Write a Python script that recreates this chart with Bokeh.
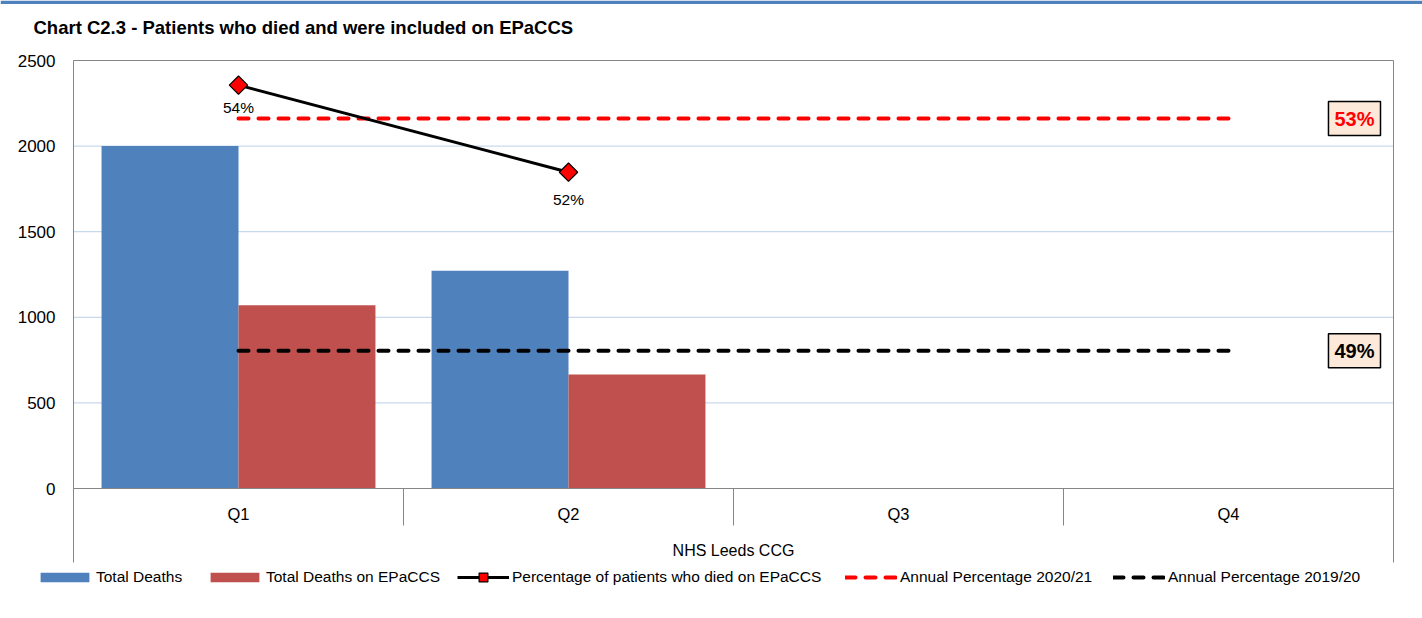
import numpy as np
from bokeh.plotting import figure
from bokeh.models import Range1d, Legend, LegendItem, Label
from bokeh.embed import file_html
from bokeh.resources import INLINE

# ---------------- data ----------------
quarters = ["Q1", "Q2", "Q3", "Q4"]
total_deaths = [2000, 1272, np.nan, np.nan]
deaths_on_epaccs = [1070, 666, np.nan, np.nan]
pct_on_epaccs = [0.535, 0.523]           # Q1, Q2 only
pct_labels = ["54%", "52%"]
annual_2021 = 0.5304
annual_2021_label = "53%"
annual_1920 = 0.4984
annual_1920_label = "49%"
group_label = "NHS Leeds CCG"
y_ticks = [0, 500, 1000, 1500, 2000, 2500]
title_text = "Chart C2.3 - Patients who died and were included on EPaCCS"
legend_labels = ["Total Deaths", "Total Deaths on EPaCCS",
                 "Percentage of patients who died on EPaCCS",
                 "Annual Percentage 2020/21", "Annual Percentage 2019/20"]

# ---------------- layout / style ----------------
FONT = "Liberation Sans"
BLUE = "#4F81BD"
RED = "#C0504D"
GRAY = "#868686"
GRID = "#BCD0E8"
W, H = 1422, 618
PL, PR, PT, PB = 73, 1393, 60, 488      # plot-area edges in pixels
YMAX = 2500
PCT_RANGE = (0.4794, 0.5384)            # hidden secondary axis (bottom, top of plot area)

n = len(quarters)
centers = np.arange(n) + 0.5
bw = 0.415

SX = n / (PR - PL)
KY = YMAX / (PB - PT)
KP = (PCT_RANGE[1] - PCT_RANGE[0]) / (PB - PT)

def X(px):
    return (px - PL) * SX

def Y(py):
    return (PB - py) * KY

p = figure(width=W, height=H, x_range=Range1d(X(0), X(W)), y_range=Range1d(Y(H), Y(0)),
           x_axis_type=None, y_axis_type=None, output_backend="svg", toolbar_location=None,
           min_border=0, background_fill_color="white", border_fill_color="white",
           outline_line_color=None)
p.extra_y_ranges = {"pct": Range1d(PCT_RANGE[0] - (H - PB) * KP, PCT_RANGE[1] + PT * KP)}
p.xgrid.visible = False
p.ygrid.visible = False

# top blue rule
p.quad(left=X(0), right=X(W), top=Y(0), bottom=Y(3.5), fill_color=BLUE, line_color=None)

# title
p.add_layout(Label(x=X(33), y=Y(27), text=title_text, text_align="left", text_baseline="middle",
                   text_font=FONT, text_font_size="18.5px", text_font_style="bold",
                   text_color="black"))

# horizontal gridlines
p.segment(x0=[0] * len(y_ticks), x1=[n] * len(y_ticks), y0=y_ticks, y1=y_ticks,
          line_color=GRID, line_width=1)

# bars
r_total = p.vbar(x=centers - bw / 2, top=total_deaths, bottom=0, width=bw,
                 fill_color=BLUE, line_color=None)
r_epac = p.vbar(x=centers + bw / 2, top=deaths_on_epaccs, bottom=0, width=bw,
                fill_color=RED, line_color=None)

# plot-area frame and category axis
p.segment(x0=[0, n, 0, 0], x1=[0, n, n, n], y0=[Y(562), Y(562), YMAX, 0],
          y1=[YMAX, YMAX, YMAX, 0], line_color=GRAY, line_width=1)
sep = list(range(1, n))
p.segment(x0=sep, x1=sep, y0=[0] * len(sep), y1=[Y(525)] * len(sep),
          line_color=GRAY, line_width=1)

# y tick labels
for t in y_ticks:
    p.add_layout(Label(x=0, y=t, x_offset=-18, text=str(t), text_align="right",
                       text_baseline="middle", text_font=FONT, text_font_size="17px",
                       text_color="black"))

# category labels
for c, q in zip(centers, quarters):
    p.add_layout(Label(x=c, y=Y(513), text=q, text_align="center", text_baseline="middle",
                       text_font=FONT, text_font_size="16.5px", text_color="black"))
p.add_layout(Label(x=n / 2, y=Y(550), text=group_label, text_align="center",
                   text_baseline="middle", text_font=FONT, text_font_size="16px",
                   text_color="black"))

# annual lines
r_a21 = p.line(x=centers, y=[annual_2021] * n, y_range_name="pct", line_color="red",
               line_width=4, line_dash="10 10", line_cap="round")
r_a19 = p.line(x=centers, y=[annual_1920] * n, y_range_name="pct", line_color="black",
               line_width=4, line_dash="10 10", line_cap="round")

# percentage line
k = len(pct_on_epaccs)
r_pl = p.line(x=centers[:k], y=pct_on_epaccs, y_range_name="pct", line_color="black", line_width=3)
r_pm = p.scatter(x=centers[:k], y=pct_on_epaccs, y_range_name="pct", marker="square",
                 angle=np.pi / 4, size=13, fill_color="red", line_color="black", line_width=1.2)
label_offsets = [14, 19]
for xc, yv, t, off in zip(centers[:k], pct_on_epaccs, pct_labels, label_offsets):
    p.add_layout(Label(x=xc, y=yv, y_range_name="pct", text=t, text_align="center",
                       text_baseline="top", y_offset=-off, text_font=FONT,
                       text_font_size="15.5px", text_color="black"))

# boxed annual labels
for yv, t, col in [(annual_2021, annual_2021_label, "red"), (annual_1920, annual_1920_label, "black")]:
    p.add_layout(Label(x=n, y=yv, y_range_name="pct", x_offset=-13, text=t,
                       text_align="right", text_baseline="middle", text_font=FONT,
                       text_font_size="20px", text_font_style="bold", text_color=col,
                       background_fill_color="#FDE9D9", border_line_color="black",
                       border_line_width=1.5, padding=6))

# legend: one entry per Legend so each sits where the reference has it
LEG_CY = 577
LABEL_H = 18
entries = [
    ([r_total], 34, 61, 12, 1),
    ([r_epac], 204, 61, 12, 1),
    ([r_pl, r_pm], 457, 52, 22, 3),
    ([r_a21], 845, 52, 12, 3),
    ([r_a19], 1113, 52, 12, 3),
]
for (rends, x0, gw, gh, so), lab in zip(entries, legend_labels):
    row_h = max(gh, LABEL_H)
    leg = Legend(items=[LegendItem(label=lab, renderers=rends)],
                 location=(x0, H - LEG_CY - row_h / 2), orientation="horizontal",
                 padding=0, margin=0, border_line_color=None, background_fill_alpha=0,
                 glyph_width=gw, glyph_height=gh, label_height=LABEL_H, label_standoff=so,
                 label_text_font=FONT, label_text_font_size="15.5px", label_text_color="black")
    p.add_layout(leg)

open("out.html", "w").write(file_html(p, INLINE))
